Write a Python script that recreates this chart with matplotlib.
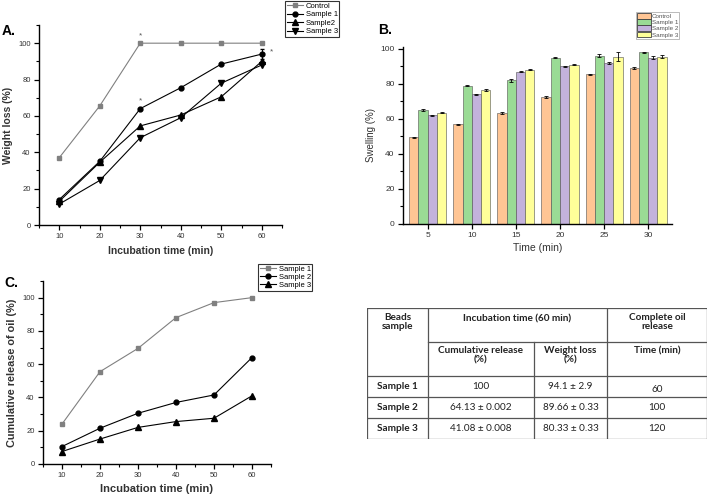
import matplotlib
matplotlib.use("Agg")
import matplotlib.pyplot as plt
from matplotlib.ticker import MultipleLocator
from matplotlib.patches import Patch
import numpy as np

plt.rcParams['font.family'] = ['Liberation Sans', 'DejaVu Sans']

# ---------------- Data ----------------
# Panel A: weight loss
a_time = [10, 20, 30, 40, 50, 60]
a_control = [37, 65.5, 100, 100, 100, 100]
a_s1 = [14, 35, 64, 75.5, 88.5, 94]
a_s1_err = [0, 0, 0, 0, 0, 2.9]
a_s2 = [13, 34.5, 54.5, 60.5, 70.5, 90]
a_s3 = [11.5, 24.5, 48, 59, 78, 88]
a_labels = ['Control', 'Sample 1', 'Sample2', 'Sample 3']

# Panel B: swelling
b_time = [5, 10, 15, 20, 25, 30]
b_control = [49.5, 57, 63.5, 72.5, 85.5, 89]
b_s1 = [65, 79, 82, 95, 96, 98]
b_s2 = [62, 74, 87, 90, 92, 95]
b_s3 = [63.5, 76.5, 88, 91, 95.5, 95.5]
b_control_err = [0.3, 0.3, 0.6, 0.6, 0.3, 0.4]
b_s1_err = [0.4, 0.4, 1.0, 0.4, 0.8, 0.4]
b_s2_err = [0.3, 0.3, 0.3, 0.3, 0.6, 0.6]
b_s3_err = [0.3, 0.6, 0.4, 0.4, 2.4, 0.9]
b_labels = ['Control', 'Sample 1', 'Sample 2', 'Sample 3']
b_colors = ['#FFC594', '#9ADB95', '#C3B2DC', '#FFFF99']

# Panel C: cumulative release
c_time = [10, 20, 30, 40, 50, 60]
c_s1 = [24, 55.5, 69.5, 88, 97, 100]
c_s2 = [10.5, 21.5, 30.5, 37, 41.5, 64]
c_s3 = [7.5, 15, 22, 25.5, 27.5, 41]
c_labels = ['Sample 1', 'Sample 2', 'Sample 3']

# Table
t_row_labels = ['Sample 1', 'Sample 2', 'Sample 3']
t_cum = ['100', '64.13 ± 0.002', '41.08 ± 0.008']
t_wl = ['94.1 ± 2.9', '89.66 ± 0.33', '80.33 ± 0.33']
t_time = ['60', '100', '120']

W, H = 708, 496
fig = plt.figure(figsize=(W / 100, H / 100), dpi=100)


def px_axes(l, t, r, b):
    return fig.add_axes([l / W, 1 - b / H, (r - l) / W, (b - t) / H])


def origin_style(ax, fs):
    for s in ['top', 'right']:
        ax.spines[s].set_visible(False)
    for s in ['left', 'bottom']:
        ax.spines[s].set_linewidth(1.0)
    ax.tick_params(which='major', direction='out', length=3.5, width=0.9, labelsize=fs, colors='black',
                   pad=2.5)
    ax.tick_params(which='minor', direction='out', length=2, width=0.8)
    for lab in ax.get_xticklabels() + ax.get_yticklabels():
        lab.set_color('#333333')


# ---------------- Panel A ----------------
axA = px_axes(39, 25, 282, 225)
gray = '#808080'
hA0, = axA.plot(a_time, a_control, color=gray, marker='s', ms=3.5, lw=0.8)
hA1, = axA.plot(a_time, a_s1, color='black', marker='o', ms=3.5, lw=0.8)
axA.errorbar(a_time, a_s1, yerr=a_s1_err, fmt='none', ecolor='black', capsize=1.5, elinewidth=0.7)
hA2, = axA.plot(a_time, a_s2, color='black', marker='^', ms=3.8, lw=0.8)
hA3, = axA.plot(a_time, a_s3, color='black', marker='v', ms=3.8, lw=0.8)
axA.set_xlim(5, 65)
axA.set_ylim(0, 110)
axA.set_xticks(a_time)
axA.set_yticks([0, 20, 40, 60, 80, 100])
axA.xaxis.set_minor_locator(MultipleLocator(5))
axA.yaxis.set_minor_locator(MultipleLocator(10))
origin_style(axA, 5.5)
axA.set_xlabel('Incubation time (min)', fontsize=7.5, fontweight='bold', color='#333333', labelpad=4)
axA.set_ylabel('Weight loss (%)', fontsize=7.5, fontweight='bold', color='#333333', labelpad=4)
axA.text(30, 104, '*', ha='center', va='center', fontsize=6, color='#555555')
axA.text(30, 68.5, '*', ha='center', va='center', fontsize=6, color='#555555')
axA.text(62.5, 95, '*', ha='center', va='center', fontsize=6, color='#555555')
legA = fig.legend([hA0, hA1, hA2, hA3], a_labels, loc='upper left', bbox_to_anchor=(285 / W, 1 - 1 / H),
                  fontsize=5.5, frameon=True, fancybox=False, edgecolor='black',
                  handlelength=2.2, handletextpad=0.3, borderpad=0.2, labelspacing=0.15,
                  borderaxespad=0)
legA.get_frame().set_linewidth(0.8)
fig.text(2 / W, 1 - 31 / H, 'A.', fontsize=10, fontweight='bold', va='center')

# ---------------- Panel B ----------------
axB = px_axes(403, 47, 672, 224)
bw = 1.05
offsets = [-1.5 * bw, -0.5 * bw, 0.5 * bw, 1.5 * bw]
series = [(b_control, b_control_err), (b_s1, b_s1_err), (b_s2, b_s2_err), (b_s3, b_s3_err)]
x = np.array(b_time, dtype=float)
for (vals, err), off, col, lab in zip(series, offsets, b_colors, b_labels):
    axB.bar(x + off, vals, width=bw, color=col, edgecolor='#505050', linewidth=0.4, label=lab,
            yerr=err, error_kw=dict(ecolor='black', elinewidth=0.6, capsize=1.5, capthick=0.6))
axB.set_xlim(2.2, 32.7)
axB.set_ylim(0, 101)
axB.set_xticks(b_time)
axB.set_yticks([0, 20, 40, 60, 80, 100])
axB.yaxis.set_minor_locator(MultipleLocator(10))
origin_style(axB, 6)
axB.tick_params(axis='x', which='minor', bottom=False)
axB.set_xlabel('Time (min)', fontsize=7.5, color='#333333', labelpad=3)
axB.set_ylabel('Swelling (%)', fontsize=7, color='#333333', labelpad=3)
legB = fig.legend(handles=[Patch(facecolor=c, edgecolor='#404040', lw=0.6) for c in b_colors],
                  labels=b_labels, loc='upper left', bbox_to_anchor=(636 / W, 1 - 12 / H),
                  fontsize=4.5, frameon=True, fancybox=False, edgecolor='#888888',
                  handlelength=2.2, handleheight=1.0, handletextpad=0.2, borderpad=0.15,
                  labelspacing=0.05, borderaxespad=0)
legB.get_frame().set_linewidth(0.5)
for t in legB.get_texts():
    t.set_color('#555555')
fig.text(378 / W, 1 - 30 / H, 'B.', fontsize=10, fontweight='bold', va='center')

# ---------------- Panel C ----------------
axC = px_axes(43, 281, 271, 464)
hC0, = axC.plot(c_time, c_s1, color=gray, marker='s', ms=3.5, lw=0.8)
hC1, = axC.plot(c_time, c_s2, color='black', marker='o', ms=3.5, lw=0.8)
hC2, = axC.plot(c_time, c_s3, color='black', marker='^', ms=3.8, lw=0.8)
axC.set_xlim(5, 65)
axC.set_ylim(0, 110)
axC.set_xticks(c_time)
axC.set_yticks([0, 20, 40, 60, 80, 100])
axC.xaxis.set_minor_locator(MultipleLocator(5))
axC.yaxis.set_minor_locator(MultipleLocator(10))
origin_style(axC, 5.5)
axC.set_xlabel('Incubation time (min)', fontsize=8, fontweight='bold', color='#333333', labelpad=3)
axC.set_ylabel('Cumulative release of oil (%)', fontsize=7.8, fontweight='bold', color='#333333', labelpad=4)
legC = fig.legend([hC0, hC1, hC2], c_labels, loc='upper left', bbox_to_anchor=(258 / W, 1 - 264 / H),
                  fontsize=5.5, frameon=True, fancybox=False, edgecolor='black',
                  handlelength=2.2, handletextpad=0.3, borderpad=0.2, labelspacing=0.1,
                  borderaxespad=0)
legC.get_frame().set_linewidth(0.8)
fig.text(4 / W, 1 - 283 / H, 'C.', fontsize=10, fontweight='bold', va='center')

# ---------------- Table ----------------
axT = px_axes(367, 308, 707, 439)
axT.set_xlim(367, 707)
axT.set_ylim(439, 308)
axT.axis('off')
xl, c1, c2, c3, xr = 367, 428, 534, 607, 707
yt, yh, yd1, yd2, yd3, yb = 308, 342, 376, 397, 418, 439
lk = dict(color='#555555', lw=0.9)
axT.plot([xl, xr], [yt, yt], **lk)
axT.plot([c1, xr], [yh, yh], **lk)
for yy in [yd1, yd2, yd3, yb]:
    axT.plot([xl, xr], [yy, yy], **lk)
for xx in [xl, c1, c3, xr - 0.5]:
    axT.plot([xx, xx], [yt, yb], **lk)
axT.plot([c2, c2], [yh, yb], **lk)

tf = dict(family=['Lato', 'DejaVu Sans'], color='#222222', ha='center')
fs_t = 7.2
axT.text((xl + c1) / 2, 313, 'Beads\nsample', va='top', fontsize=fs_t, fontweight='bold', linespacing=1.05, **tf)
axT.text((c1 + c3) / 2, 319, 'Incubation time (60 min)', va='center', fontsize=fs_t, fontweight='bold', **tf)
axT.text((c3 + xr) / 2, 313, 'Complete oil\nrelease', va='top', fontsize=fs_t, fontweight='bold', linespacing=1.05, **tf)
axT.text((c1 + c2) / 2, 346, 'Cumulative release\n(%)', va='top', fontsize=fs_t, fontweight='bold', linespacing=1.05, **tf)
axT.text((c2 + c3) / 2, 346, 'Weight loss\n(%)', va='top', fontsize=fs_t, fontweight='bold', linespacing=1.05, **tf)
axT.text((c3 + xr) / 2, 346, 'Time (min)', va='top', fontsize=fs_t, fontweight='bold', **tf)
row_y = [(yd1 + yd2) / 2, (yd2 + yd3) / 2, (yd3 + yb) / 2]
for i, yy in enumerate(row_y):
    axT.text((xl + c1) / 2, yy, t_row_labels[i], va='center', fontsize=fs_t, fontweight='bold', **tf)
    axT.text((c1 + c2) / 2, yy, t_cum[i], va='center', fontsize=fs_t, **tf)
    axT.text((c2 + c3) / 2, yy, t_wl[i], va='center', fontsize=fs_t, **tf)
    axT.text((c3 + xr) / 2, yy + (3 if i == 0 else 0), t_time[i], va='center', fontsize=fs_t, **tf)

fig.savefig('out.png', dpi=100)
